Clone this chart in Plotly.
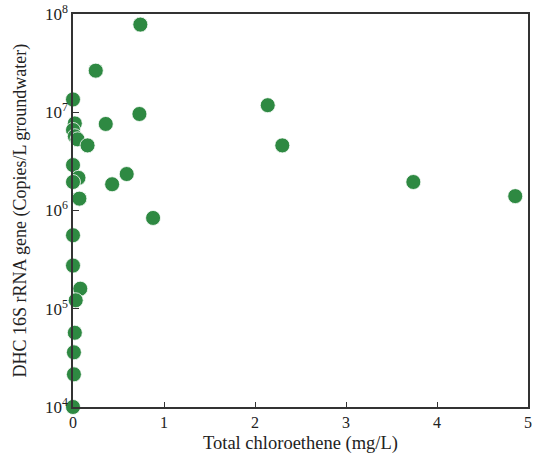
import plotly.graph_objects as go

# Total chloroethene (mg/L)
chloroethene = [0.74, 0.25, 0.00, 0.73, 0.36, 0.02, 0.00, 0.02, 0.05, 0.16,
                2.14, 2.30, 3.74, 4.86, 0.59, 0.43, 0.88,
                0.00, 0.06, 0.00, 0.07, 0.00, 0.00, 0.08, 0.03, 0.02, 0.01, 0.01, 0.00]
# DHC 16S rRNA gene (Copies/L groundwater)
dhc_copies = [7.8e7, 2.65e7, 1.35e7, 9.6e6, 7.6e6, 7.7e6, 6.6e6, 5.7e6, 5.3e6, 4.6e6,
              1.18e7, 4.6e6, 1.95e6, 1.4e6, 2.35e6, 1.85e6, 8.4e5,
              2.9e6, 2.15e6, 1.95e6, 1.32e6, 5.6e5, 2.75e5, 1.6e5, 1.22e5, 5.7e4, 3.6e4, 2.15e4, 1.0e4]

y_tickvals = [1e4, 1e5, 1e6, 1e7, 1e8]
y_ticktext = ["10<sup>4</sup>", "10<sup>5</sup>", "10<sup>6</sup>", "10<sup>7</sup>", "10<sup>8</sup>"]
x_tickvals = [0, 1, 2, 3, 4, 5]
x_title = "Total chloroethene (mg/L)"
y_title = "DHC 16S rRNA gene (Copies/L groundwater)"

fig = go.Figure()
fig.add_trace(go.Scatter(
    x=chloroethene, y=dhc_copies, mode="markers",
    marker=dict(size=15, color="rgb(46,137,66)", line=dict(color="white", width=0.8)),
    cliponaxis=False, showlegend=False,
))

font = dict(family="Liberation Serif, Times New Roman, serif", size=17, color="#222")
fig.update_layout(
    width=536, height=459,
    margin=dict(l=73, r=8, t=14, b=52),
    plot_bgcolor="white", paper_bgcolor="white",
    font=font,
)
fig.update_xaxes(
    range=[0, 5], tickvals=x_tickvals, ticks="inside", ticklen=5, tickcolor="#333",
    showline=True, linecolor="#333", linewidth=1.5, mirror=True, showgrid=False, zeroline=False,
    automargin=False, ticklabelstandoff=0, ticklabeloverflow="allow", tickfont=dict(size=16),
)
fig.update_yaxes(
    type="log", range=[4, 8], tickvals=y_tickvals, ticktext=y_ticktext,
    ticks="inside", ticklen=6, tickcolor="#333",
    showline=True, linecolor="#333", linewidth=1.5, mirror=True, showgrid=False, zeroline=False,
    automargin=False, ticklabeloverflow="allow",
)
fig.add_annotation(text=x_title, xref="paper", yref="paper", x=0.5, y=0, yshift=-36,
                   xanchor="center", yanchor="middle", showarrow=False, font=dict(size=18.5))
fig.add_annotation(text=y_title, xref="paper", yref="paper", x=0, y=0.5, xshift=-53,
                   xanchor="center", yanchor="middle", textangle=-90, showarrow=False,
                   font=dict(size=18))
# remove the browser's default 8px body margin so the figure fills the window exactly
fig.write_html("out.html", config={"displayModeBar": False},
               post_script="document.body.style.margin='0';document.body.style.overflow='hidden';")
